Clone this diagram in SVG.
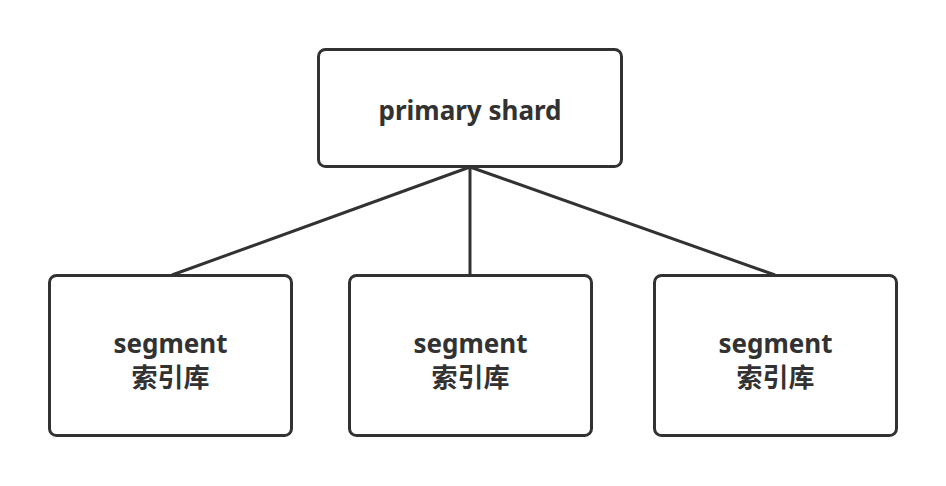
<svg xmlns="http://www.w3.org/2000/svg" width="946" height="486" viewBox="0 0 946 486">
<style>
.box{fill:#fff;stroke:#323232;stroke-width:3}
.t{font-family:"Noto Sans","Noto Sans CJK SC",sans-serif;font-weight:bold;font-size:26px;fill:#323232;text-anchor:middle}
.c{stroke:#323232;stroke-width:3;fill:none}
</style>
<rect width="946" height="486" fill="#fff"/>
<g id="connectors">
<line class="c" x1="470" y1="167" x2="172" y2="275"/>
<line class="c" x1="470" y1="167" x2="470" y2="275"/>
<line class="c" x1="470" y1="167" x2="775" y2="275"/>
</g>
<g id="primary">
<rect class="box" x="318.5" y="49.5" width="303" height="117" rx="7"/>
<text class="t" x="470" y="120">primary shard</text>
</g>
<g id="seg1">
<rect class="box" x="49.5" y="275.5" width="242" height="160" rx="7"/>
<text class="t" x="170.5" y="353">segment</text>
<text class="t" x="170.5" y="387">索引库</text>
</g>
<g id="seg2">
<rect class="box" x="349.5" y="275.5" width="242" height="160" rx="7"/>
<text class="t" x="470.5" y="353">segment</text>
<text class="t" x="470.5" y="387">索引库</text>
</g>
<g id="seg3">
<rect class="box" x="654.5" y="275.5" width="242" height="160" rx="7"/>
<text class="t" x="775.5" y="353">segment</text>
<text class="t" x="775.5" y="387">索引库</text>
</g>
</svg>
